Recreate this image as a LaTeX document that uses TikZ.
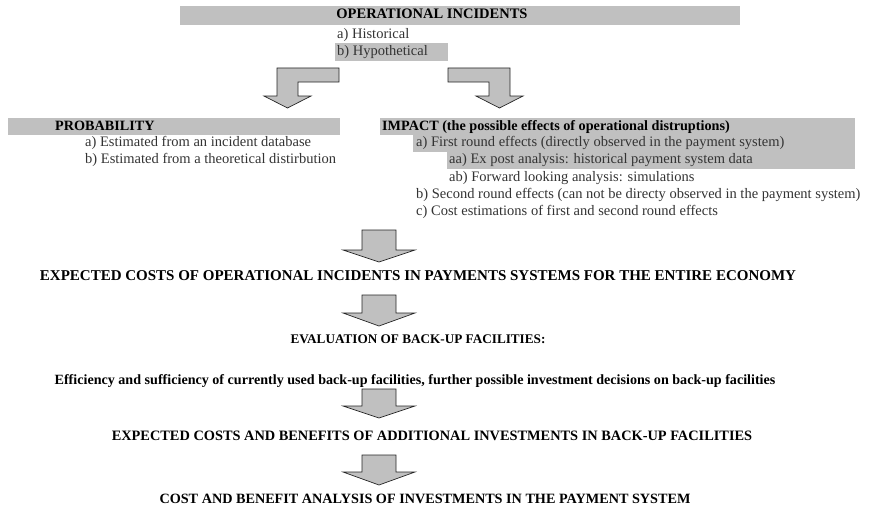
\documentclass[tikz,border=0pt]{standalone}
\usepackage{fontspec}
\setmainfont{Liberation Serif}
\usetikzlibrary{backgrounds,calc}
\definecolor{band}{HTML}{C0C0C0}
\definecolor{txt}{HTML}{333333}
\begin{document}
\begin{tikzpicture}[x=1pt,y=-1pt,
  lbl/.style={inner sep=0pt, anchor=west, text height=9.5pt, text depth=3pt,
    font=\fontsize{14.5}{16}\selectfont, text=txt},
  hd/.style={inner sep=0pt, text height=9.5pt, text depth=3pt,
    font=\fontsize{14.2}{16}\selectfont\bfseries, text=black},
  blockarrow/.style={fill=band, draw=black!85, line width=0.7pt, line join=miter}]
\useasboundingbox (0,0) rectangle (875,511);

% top part
\node[hd, font=\fontsize{14.5}{16}\selectfont\bfseries] (oi) at (432,15) {OPERATIONAL INCIDENTS};
\node[lbl] (hist) at (337,35) {a) Historical};
\node[lbl] (hypo) at (337,52) {b) Hypothetical};

% L-shaped arrows
\draw[blockarrow] (339,68) -- (277,68) -- (277,96) -- (264,96) -- (287.5,108)
  -- (311,96) -- (298,96) -- (298,82) -- (339,82) -- cycle;
\draw[blockarrow] (448,68) -- (510,68) -- (510,96) -- (523,96) -- (499.5,108)
  -- (476,96) -- (489,96) -- (489,82) -- (448,82) -- cycle;

% probability
\node[hd, anchor=west] (prob) at (55,127) {PROBABILITY};
\node[lbl] (pa) at (85,143) {a) Estimated from an incident database};
\node[lbl] (pb) at (85,160) {b) Estimated from a theoretical distirbution};

% impact
\node[hd, anchor=west] (imp) at (382,127) {IMPACT (the possible effects of operational distruptions)};
\node[lbl] (ia) at (416,143) {a) First round effects (directly observed in the payment system)};
\node[lbl] (iaa) at (449,160) {aa) Ex post analysis: historical payment system data};
\node[lbl] (iab) at (449,178) {ab) Forward looking analysis: simulations};
\node[lbl] (ib) at (416,195) {b) Second round effects (can not be directy observed in the payment system)};
\node[lbl] (ic) at (416,212) {c) Cost estimations of first and second round effects};
\coordinate (bandend) at ([xshift=-6pt]ib.east);

% lower chain
\node[hd, font=\fontsize{15}{16}\selectfont\bfseries] (ec) at (418,277) {EXPECTED COSTS OF OPERATIONAL INCIDENTS IN PAYMENTS SYSTEMS FOR THE ENTIRE ECONOMY};
\node[hd, font=\fontsize{13.2}{16}\selectfont\bfseries] (ev) at (418,340) {EVALUATION OF BACK-UP FACILITIES:};
\node[hd, font=\fontsize{14.1}{16}\selectfont\bfseries] (eff) at (415,381) {Efficiency and sufficiency of currently used back-up facilities, further possible investment decisions on back-up facilities};
\node[hd, font=\fontsize{14.35}{16}\selectfont\bfseries] (ecb) at (432,437) {EXPECTED COSTS AND BENEFITS OF ADDITIONAL INVESTMENTS IN BACK-UP FACILITIES};
\node[hd] (cba) at (425,500) {COST AND BENEFIT ANALYSIS OF INVESTMENTS IN THE PAYMENT SYSTEM};

% down arrows
\foreach \t/\b/\p in {230/250/262, 295/313/326, 389/406/418, 455/472/485}{
  \draw[blockarrow] (362,\t) -- (396,\t) -- (396,\b) -- (415,\b) -- (379,\p)
    -- (343,\b) -- (362,\b) -- cycle;
}

\begin{pgfonlayer}{background}
\fill[band] (180,6) rectangle (740,25);
\fill[band] (335,43) rectangle (448,61);
\fill[band] (8,118) rectangle (340,135);
\fill[band] (380,118) rectangle (bandend |- 0,135);
\fill[band] (413,135) rectangle (bandend |- 0,152);
\fill[band] (447,152) rectangle (bandend |- 0,169);
\end{pgfonlayer}
\end{tikzpicture}
\end{document}
